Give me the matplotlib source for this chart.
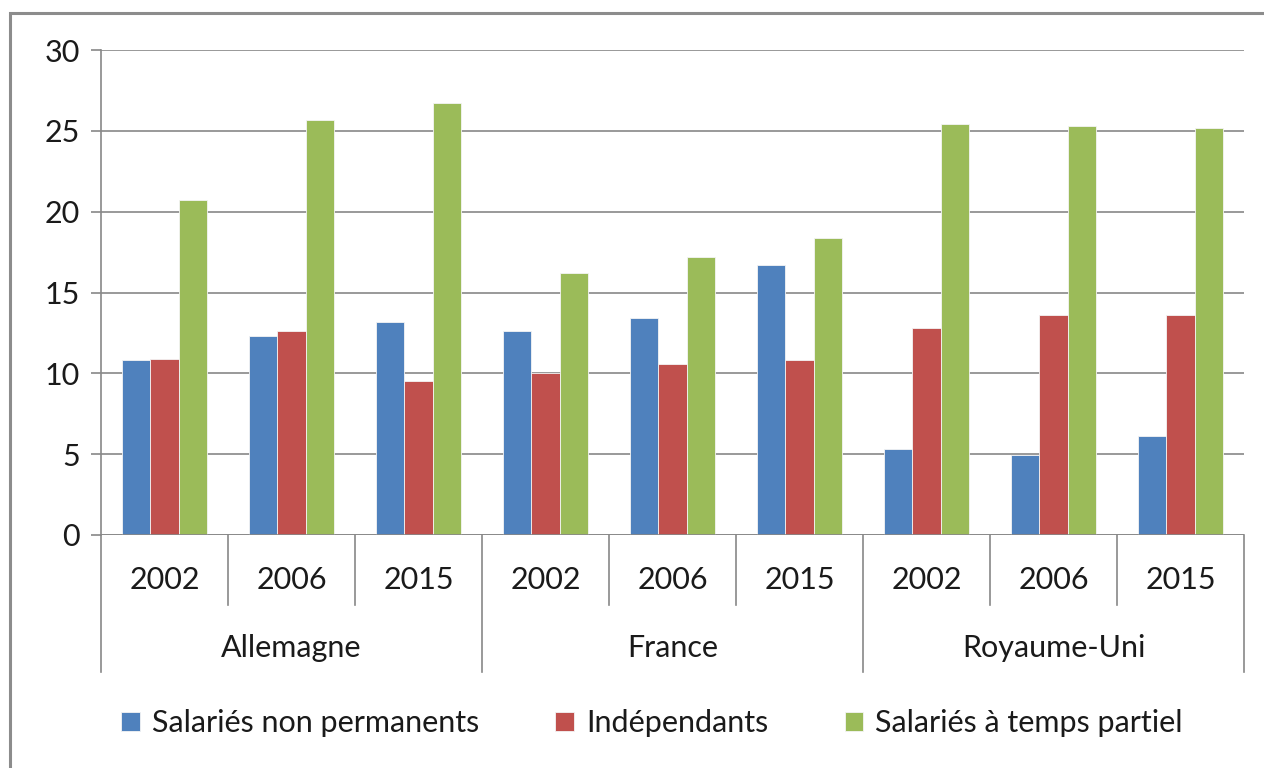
import matplotlib.pyplot as plt
import numpy as np
from matplotlib.patches import Rectangle

plt.rcParams['font.family'] = ['Lato', 'DejaVu Sans']

# données
pays = ['Allemagne', 'France', 'Royaume-Uni']
annees = ['2002', '2006', '2015']
series = ['Salariés non permanents', 'Indépendants', 'Salariés à temps partiel']
non_permanents = [10.8, 12.3, 13.2, 12.6, 13.4, 16.7, 5.3, 4.95, 6.1]
independants = [10.9, 12.6, 9.5, 10.0, 10.6, 10.8, 12.8, 13.6, 13.6]
temps_partiel = [20.7, 25.7, 26.7, 16.2, 17.2, 18.4, 25.4, 25.3, 25.2]
colors = ['#4F81BD', '#C0504D', '#9BBB59']

FS = 22
W, H = 1264, 768
fig = plt.figure(figsize=(W / 100, H / 100), dpi=100)
ax = fig.add_axes([101 / W, 1 - 535 / H, (1244 - 101) / W, (535 - 50) / H])

# cadre extérieur
fig.patches.append(Rectangle((10.5 / W, -0.1), 1.2, 1 - 12.5 / H + 0.1,
                             transform=fig.transFigure, fill=False,
                             edgecolor='#8C8C8C', linewidth=2.2))

n = len(non_permanents)
x = np.arange(n) + 0.5
width = 0.225
for i, vals in enumerate([non_permanents, independants, temps_partiel]):
    ax.bar(x + (i - 1) * width, vals, width, color=colors[i], label=series[i],
           edgecolor='#F4F4F4', linewidth=0.6, zorder=3)

ax.set_xlim(0, n)
ax.set_ylim(0, 30)
ax.set_yticks(range(0, 31, 5))
ax.tick_params(axis='y', length=7, width=1.2, color='#888888', labelsize=FS,
               pad=8, labelcolor='#1a1a1a')
ax.set_xticks([])
ax.grid(axis='y', color='#888888', linewidth=1.2, zorder=0)
for s in ['top', 'right', 'bottom']:
    ax.spines[s].set_visible(False)
ax.spines['left'].set_color('#888888')
ax.spines['left'].set_linewidth(1.2)
ax.axhline(0, color='#888888', linewidth=1.2, zorder=4)

# axe des catégories à deux niveaux
tr = ax.get_xaxis_transform()
for k in range(n + 1):
    bas = -137 / 485 if k % 3 == 0 else -70 / 485
    ax.plot([k, k], [0, bas], transform=tr, color='#888888', linewidth=1.2,
            clip_on=False)
for k in range(n):
    ax.text(k + 0.5, -45 / 485, annees[k % 3], transform=tr, ha='center',
            va='center', fontsize=FS, color='#1a1a1a')
for j, p in enumerate(pays):
    ax.text(3 * j + 1.5, -113 / 485, p, transform=tr, ha='center',
            va='center', fontsize=FS, color='#1a1a1a')

fig.legend(loc='center', bbox_to_anchor=(652 / W, 1 - 723 / H), ncol=3,
           frameon=False, fontsize=FS, handlelength=0.6, handleheight=0.6,
           handletextpad=0.4, columnspacing=2.5, labelcolor='#1a1a1a')

fig.savefig('out.png', dpi=100)
